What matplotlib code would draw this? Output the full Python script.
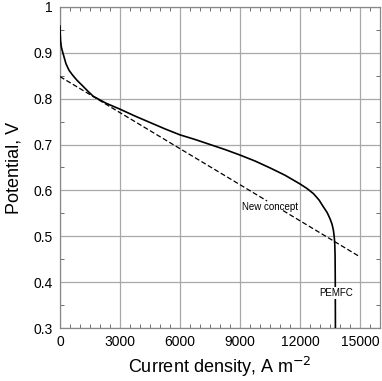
import matplotlib
matplotlib.use('Agg')
import matplotlib.pyplot as plt
import numpy as np
from matplotlib.ticker import MultipleLocator

plt.rcParams['font.family'] = ['Liberation Sans', 'DejaVu Sans']

# PEMFC polarisation curve
pemfc_j = [0, 10, 30, 70, 150, 300, 450, 617, 850, 1083, 1400, 1667, 2300,
           3000, 3750, 4500, 5250, 6000, 6750, 7500, 8250, 9000, 9750, 10500,
           11250, 12000, 12350, 12667, 12950, 13167, 13350, 13500, 13600,
           13667, 13710, 13733, 13750, 13760, 13767]
pemfc_v = [0.958, 0.942, 0.926, 0.912, 0.899, 0.876, 0.862, 0.852, 0.840,
           0.830, 0.816, 0.805, 0.790, 0.777, 0.762, 0.748, 0.734, 0.721,
           0.711, 0.700, 0.689, 0.677, 0.664, 0.649, 0.633, 0.614, 0.604,
           0.593, 0.579, 0.564, 0.552, 0.538, 0.526, 0.513, 0.498, 0.484,
           0.460, 0.400, 0.300]

# new concept: straight line, broken where the label sits
new_j = [0, 10350, np.nan, 11150, 15000]
new_v = [0.848, 0.577, np.nan, 0.556, 0.455]

fig = plt.figure(figsize=(3.82, 3.81), dpi=100)
ax = fig.add_axes([0.157, 0.139, 0.838, 0.843])

ax.plot(pemfc_j, pemfc_v, color='black', lw=1.2, zorder=3)
ax.plot(new_j, new_v, color='black', lw=0.9, ls=(0, (4, 2)), zorder=3)

ax.text(10500, 0.564, 'New concept', fontsize=7, ha='center', va='center', zorder=4)
ax.text(13780, 0.376, 'PEMFC', fontsize=7, ha='center', va='center', zorder=4,
        bbox=dict(facecolor='white', edgecolor='none', pad=0.5))

ax.set_xlim(0, 16000)
ax.set_ylim(0.3, 1.0)
ax.set_xticks([0, 3000, 6000, 9000, 12000, 15000])
ax.set_yticks([0.3, 0.4, 0.5, 0.6, 0.7, 0.8, 0.9, 1.0])
ax.set_yticklabels(['0.3', '0.4', '0.5', '0.6', '0.7', '0.8', '0.9', '1'])
ax.xaxis.set_minor_locator(MultipleLocator(500))
ax.yaxis.set_minor_locator(MultipleLocator(0.05))
ax.tick_params(which='both', direction='in', top=True, right=True, color='#555555')
ax.tick_params(which='major', length=0, labelsize=10, pad=5)
ax.tick_params(which='minor', length=3, width=0.6)
ax.grid(True, which='major', color='#a8a8a8', lw=0.9)
for s in ax.spines.values():
    s.set_color('#888888')
    s.set_linewidth(0.9)

ax.set_xlabel('Current density, A m$^{-2}$', fontsize=13, labelpad=4)
ax.set_ylabel('Potential, V', fontsize=13, labelpad=8)

plt.savefig('out.png', dpi=100)
plt.close()
